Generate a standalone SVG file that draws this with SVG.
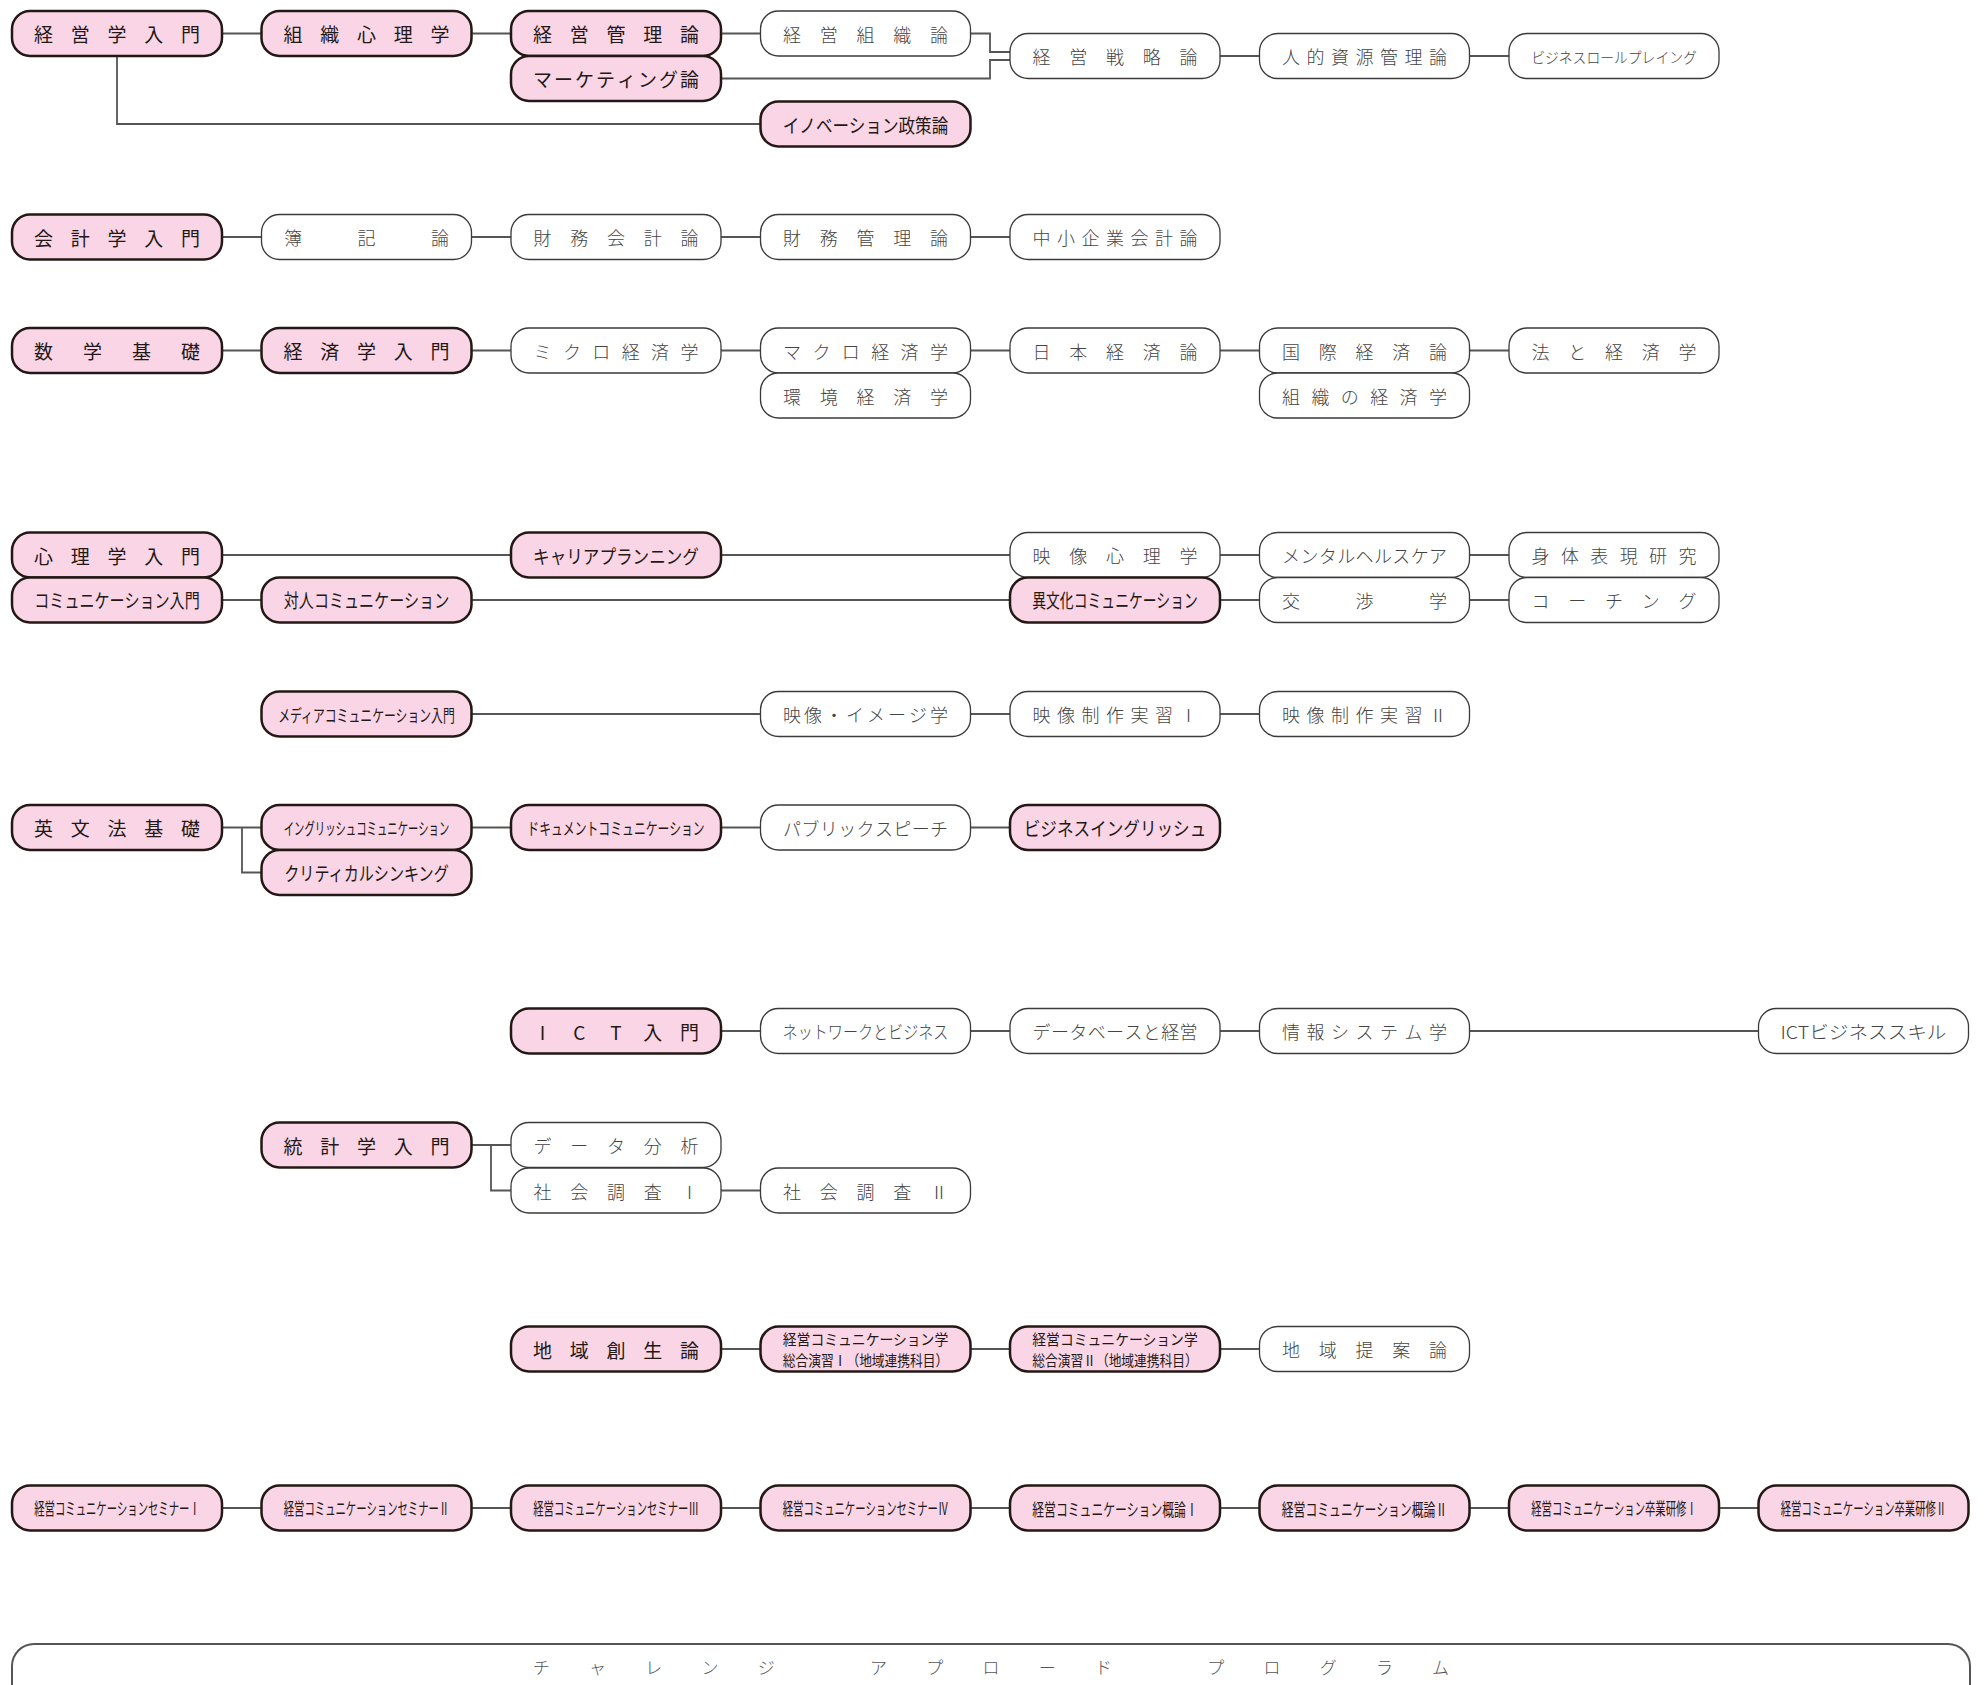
<svg xmlns="http://www.w3.org/2000/svg" width="1986" height="1685" viewBox="0 0 1986 1685">
<style>
.p use{fill:#f9d5e5;stroke:#231815;stroke-width:2.5}
.w use{fill:#fff;stroke:#3a3a3a;stroke-width:1.3}
text{font-family:"Noto Sans CJK JP","Noto Sans CJK SC",sans-serif;text-anchor:middle;dominant-baseline:central}
.p text{font-size:19px;fill:#231815}
.w text{font-size:18px;fill:#444;font-weight:300}
.s{font-size:17px!important}
.t{font-size:15px!important}
.xs{font-size:15px!important}
.c path{fill:none;stroke:#555;stroke-width:1.8}
.bar{fill:#fff;stroke:#555;stroke-width:2}
.bt{font-size:17px;fill:#555;font-weight:300}
</style>
<defs>
<rect id="b" x="-105" y="-22.5" width="210" height="45" rx="18"/>
</defs>
<rect class="bar" x="12" y="1644" width="1958" height="90" rx="22"/>
<text class="bt" y="1666" x="541.4 597.6 653.8 710 766.2 878.6 934.8 991 1047.2 1103.4 1215.8 1272 1328.2 1384.4 1440.6">チャレンジアプロードプログラム</text>
<g class="c">
<path d="M222 33.5H261.5M471.5 33.5H511M721 33.5H760.5M970.5 33.5H990V52H1010M721 78.5H990V60H1010M1220 56H1259.5M1469.5 56H1509M117 56V124H760.5"/>
<path d="M222 237H261.5M471.5 237H511M721 237H760.5M970.5 237H1010"/>
<path d="M222 350.5H261.5M471.5 350.5H511M721 350.5H760.5M970.5 350.5H1010M1220 350.5H1259.5M1469.5 350.5H1509"/>
<path d="M222 555H511M721 555H1010M1220 555H1259.5M1469.5 555H1509M222 600H261.5M471.5 600H1010M1220 600H1259.5M1469.5 600H1509"/>
<path d="M471.5 714H760.5M970.5 714H1010M1220 714H1259.5"/>
<path d="M222 827.5H261.5M242 827.5V872.5H261.5M471.5 827.5H511M721 827.5H760.5M970.5 827.5H1010"/>
<path d="M721 1031H760.5M970.5 1031H1010M1220 1031H1259.5M1469.5 1031H1758.5"/>
<path d="M471.5 1145H511M491 1145V1190.5H511M721 1190.5H760.5"/>
<path d="M721 1349H760.5M970.5 1349H1010M1220 1349H1259.5"/>
<path d="M222 1508H261.5M471.5 1508H511M721 1508H760.5M970.5 1508H1010M1220 1508H1259.5M1469.5 1508H1509M1719 1508H1758.5"/>
</g>
<!-- Row A -->
<g id="n01" class="p" transform="translate(117,33.5)"><use href="#b"/><text x="-73.5 -36.75 0 36.75 73.5">経営学入門</text></g>
<g id="n02" class="p" transform="translate(366.5,33.5)"><use href="#b"/><text x="-73.5 -36.75 0 36.75 73.5">組織心理学</text></g>
<g id="n03" class="p" transform="translate(616,33.5)"><use href="#b"/><text x="-73.5 -36.75 0 36.75 73.5">経営管理論</text></g>
<g id="n04" class="p" transform="translate(616,78.5)"><use href="#b"/><text x="-73.5 -52.5 -31.5 -10.5 10.5 31.5 52.5 73.5">マーケティング論</text></g>
<g id="n05" class="w" transform="translate(865.5,33.5)"><use href="#b"/><text x="-73.5 -36.75 0 36.75 73.5">経営組織論</text></g>
<g id="n06" class="p" transform="translate(865.5,124)"><use href="#b"/><text transform="scale(0.874,1)">イノベーション政策論</text></g>
<g id="n07" class="w" transform="translate(1115,56)"><use href="#b"/><text x="-73.5 -36.75 0 36.75 73.5">経営戦略論</text></g>
<g id="n08" class="w" transform="translate(1364.5,56)"><use href="#b"/><text x="-73.5 -49 -24.5 0 24.5 49 73.5">人的資源管理論</text></g>
<g id="n09" class="w" transform="translate(1614,56)"><use href="#b"/><text class="xs" transform="scale(0.922,1)">ビジネスロールプレイング</text></g>
<!-- Row B -->
<g id="n10" class="p" transform="translate(117,237)"><use href="#b"/><text x="-73.5 -36.75 0 36.75 73.5">会計学入門</text></g>
<g id="n11" class="w" transform="translate(366.5,237)"><use href="#b"/><text x="-73.5 0 73.5">簿記論</text></g>
<g id="n12" class="w" transform="translate(616,237)"><use href="#b"/><text x="-73.5 -36.75 0 36.75 73.5">財務会計論</text></g>
<g id="n13" class="w" transform="translate(865.5,237)"><use href="#b"/><text x="-73.5 -36.75 0 36.75 73.5">財務管理論</text></g>
<g id="n14" class="w" transform="translate(1115,237)"><use href="#b"/><text x="-73.5 -49 -24.5 0 24.5 49 73.5">中小企業会計論</text></g>
<!-- Row C -->
<g id="n15" class="p" transform="translate(117,350.5)"><use href="#b"/><text x="-73.5 -24.5 24.5 73.5">数学基礎</text></g>
<g id="n16" class="p" transform="translate(366.5,350.5)"><use href="#b"/><text x="-73.5 -36.75 0 36.75 73.5">経済学入門</text></g>
<g id="n17" class="w" transform="translate(616,350.5)"><use href="#b"/><text x="-73.5 -44.1 -14.7 14.7 44.1 73.5">ミクロ経済学</text></g>
<g id="n18" class="w" transform="translate(865.5,350.5)"><use href="#b"/><text x="-73.5 -44.1 -14.7 14.7 44.1 73.5">マクロ経済学</text></g>
<g id="n19" class="w" transform="translate(865.5,395.5)"><use href="#b"/><text x="-73.5 -36.75 0 36.75 73.5">環境経済学</text></g>
<g id="n20" class="w" transform="translate(1115,350.5)"><use href="#b"/><text x="-73.5 -36.75 0 36.75 73.5">日本経済論</text></g>
<g id="n21" class="w" transform="translate(1364.5,350.5)"><use href="#b"/><text x="-73.5 -36.75 0 36.75 73.5">国際経済論</text></g>
<g id="n22" class="w" transform="translate(1364.5,395.5)"><use href="#b"/><text x="-73.5 -44.1 -14.7 14.7 44.1 73.5">組織の経済学</text></g>
<g id="n23" class="w" transform="translate(1614,350.5)"><use href="#b"/><text x="-73.5 -36.75 0 36.75 73.5">法と経済学</text></g>
<!-- Row D -->
<g id="n24" class="p" transform="translate(117,555)"><use href="#b"/><text x="-73.5 -36.75 0 36.75 73.5">心理学入門</text></g>
<g id="n25" class="p" transform="translate(117,600)"><use href="#b"/><text transform="scale(0.794,1)">コミュニケーション入門</text></g>
<g id="n26" class="p" transform="translate(616,555)"><use href="#b"/><text transform="scale(0.874,1)">キャリアプランニング</text></g>
<g id="n27" class="p" transform="translate(366.5,600)"><use href="#b"/><text transform="scale(0.794,1)">対人コミュニケーション</text></g>
<g id="n28" class="w" transform="translate(1115,555)"><use href="#b"/><text x="-73.5 -36.75 0 36.75 73.5">映像心理学</text></g>
<g id="n29" class="p" transform="translate(1115,600)"><use href="#b"/><text transform="scale(0.728,1)">異文化コミュニケーション</text></g>
<g id="n30" class="w" transform="translate(1364.5,555)"><use href="#b"/><text x="-73.5 -55.125 -36.75 -18.375 0 18.375 36.75 55.125 73.5">メンタルヘルスケア</text></g>
<g id="n31" class="w" transform="translate(1364.5,600)"><use href="#b"/><text x="-73.5 0 73.5">交渉学</text></g>
<g id="n32" class="w" transform="translate(1614,555)"><use href="#b"/><text x="-73.5 -44.1 -14.7 14.7 44.1 73.5">身体表現研究</text></g>
<g id="n33" class="w" transform="translate(1614,600)"><use href="#b"/><text x="-73.5 -36.75 0 36.75 73.5">コーチング</text></g>
<!-- Row E -->
<g id="n34" class="p" transform="translate(366.5,714)"><use href="#b"/><text class="s" transform="scale(0.697,1)">メディアコミュニケーション入門</text></g>
<g id="n35" class="w" transform="translate(865.5,714)"><use href="#b"/><text x="-73.5 -52.5 -31.5 -10.5 10.5 31.5 52.5 73.5">映像・イメージ学</text></g>
<g id="n36" class="w" transform="translate(1115,714)"><use href="#b"/><text x="-73.5 -49 -24.5 0 24.5 49 73.5">映像制作実習Ⅰ</text></g>
<g id="n37" class="w" transform="translate(1364.5,714)"><use href="#b"/><text x="-73.5 -49 -24.5 0 24.5 49 73.5">映像制作実習Ⅱ</text></g>
<!-- Row F -->
<g id="n38" class="p" transform="translate(117,827.5)"><use href="#b"/><text x="-73.5 -36.75 0 36.75 73.5">英文法基礎</text></g>
<g id="n39" class="p" transform="translate(366.5,827.5)"><use href="#b"/><text class="s" transform="scale(0.61,1)">イングリッシュコミュニケーション</text></g>
<g id="n40" class="p" transform="translate(366.5,872.5)"><use href="#b"/><text transform="scale(0.794,1)">クリティカルシンキング</text></g>
<g id="n41" class="p" transform="translate(616,827.5)"><use href="#b"/><text class="s" transform="scale(0.697,1)">ドキュメントコミュニケーション</text></g>
<g id="n42" class="w" transform="translate(865.5,827.5)"><use href="#b"/><text x="-73.5 -55.125 -36.75 -18.375 0 18.375 36.75 55.125 73.5">パブリックスピーチ</text></g>
<g id="n43" class="p" transform="translate(1115,827.5)"><use href="#b"/><text transform="scale(0.874,1)">ビジネスイングリッシュ</text></g>
<!-- Row G -->
<g id="n44" class="p" transform="translate(616,1031)"><use href="#b"/><text x="-73.5 -36.75 0 36.75 73.5">ICT入門</text></g>
<g id="n45" class="w" transform="translate(865.5,1031)"><use href="#b"/><text transform="scale(0.838,1)">ネットワークとビジネス</text></g>
<g id="n46" class="w" transform="translate(1115,1031)"><use href="#b"/><text x="-73.5 -55.125 -36.75 -18.375 0 18.375 36.75 55.125 73.5">データベースと経営</text></g>
<g id="n47" class="w" transform="translate(1364.5,1031)"><use href="#b"/><text x="-73.5 -49 -24.5 0 24.5 49 73.5">情報システム学</text></g>
<g id="n48" class="w" transform="translate(1863.5,1031)"><use href="#b"/><text textLength="166" lengthAdjust="spacingAndGlyphs">ICTビジネススキル</text></g>
<!-- Row H -->
<g id="n49" class="p" transform="translate(366.5,1145)"><use href="#b"/><text x="-73.5 -36.75 0 36.75 73.5">統計学入門</text></g>
<g id="n50" class="w" transform="translate(616,1145)"><use href="#b"/><text x="-73.5 -36.75 0 36.75 73.5">データ分析</text></g>
<g id="n51" class="w" transform="translate(616,1190.5)"><use href="#b"/><text x="-73.5 -36.75 0 36.75 73.5">社会調査Ⅰ</text></g>
<g id="n52" class="w" transform="translate(865.5,1190.5)"><use href="#b"/><text x="-73.5 -36.75 0 36.75 73.5">社会調査Ⅱ</text></g>
<!-- Row I -->
<g id="n53" class="p" transform="translate(616,1349)"><use href="#b"/><text x="-73.5 -36.75 0 36.75 73.5">地域創生論</text></g>
<g id="n54" class="p" transform="translate(865.5,1349)"><use href="#b"/><text class="t" y="-10.5" transform="scale(0.922,1)">経営コミュニケーション学</text><text class="t" y="10.5" transform="scale(0.851,1)">総合演習Ⅰ（地域連携科目）</text></g>
<g id="n55" class="p" transform="translate(1115,1349)"><use href="#b"/><text class="t" y="-10.5" transform="scale(0.922,1)">経営コミュニケーション学</text><text class="t" y="10.5" transform="scale(0.851,1)">総合演習Ⅱ（地域連携科目）</text></g>
<g id="n56" class="w" transform="translate(1364.5,1349)"><use href="#b"/><text x="-73.5 -36.75 0 36.75 73.5">地域提案論</text></g>
<!-- Row J -->
<g id="n57" class="p" transform="translate(117,1508)"><use href="#b"/><text class="s" transform="scale(0.61,1)">経営コミュニケーションセミナーⅠ</text></g>
<g id="n58" class="p" transform="translate(366.5,1508)"><use href="#b"/><text class="s" transform="scale(0.61,1)">経営コミュニケーションセミナーⅡ</text></g>
<g id="n59" class="p" transform="translate(616,1508)"><use href="#b"/><text class="s" transform="scale(0.61,1)">経営コミュニケーションセミナーⅢ</text></g>
<g id="n60" class="p" transform="translate(865.5,1508)"><use href="#b"/><text class="s" transform="scale(0.61,1)">経営コミュニケーションセミナーⅣ</text></g>
<g id="n61" class="p" transform="translate(1115,1508)"><use href="#b"/><text class="s" transform="scale(0.697,1)">経営コミュニケーション概論Ⅰ</text></g>
<g id="n62" class="p" transform="translate(1364.5,1508)"><use href="#b"/><text class="s" transform="scale(0.697,1)">経営コミュニケーション概論Ⅱ</text></g>
<g id="n63" class="p" transform="translate(1614,1508)"><use href="#b"/><text class="s" transform="scale(0.61,1)">経営コミュニケーション卒業研修Ⅰ</text></g>
<g id="n64" class="p" transform="translate(1863.5,1508)"><use href="#b"/><text class="s" transform="scale(0.61,1)">経営コミュニケーション卒業研修Ⅱ</text></g>
</svg>
